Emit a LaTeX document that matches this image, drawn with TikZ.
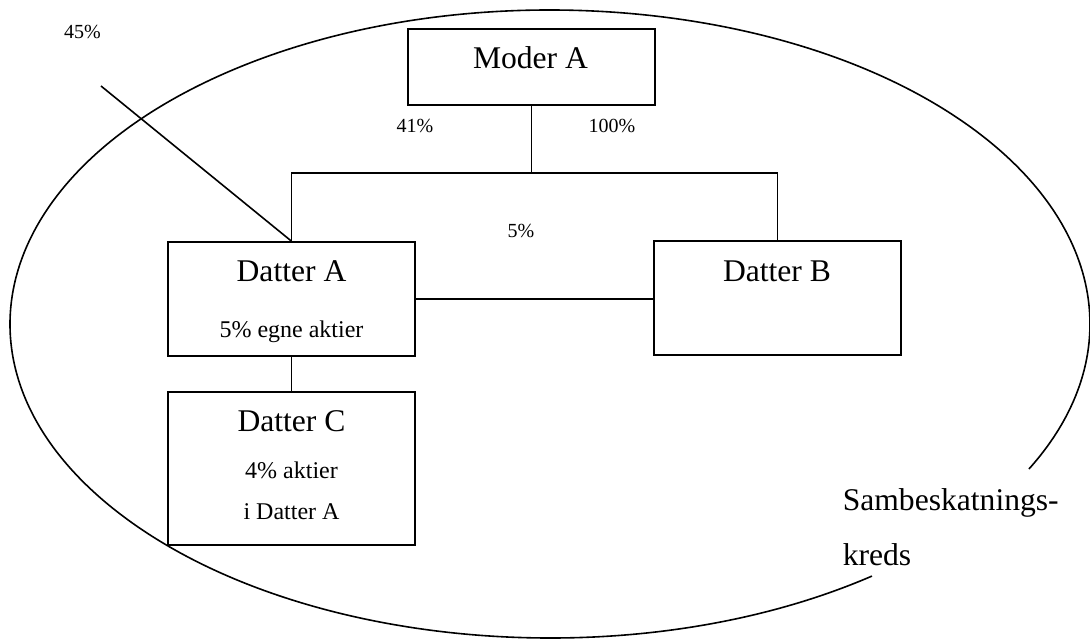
\documentclass[tikz,border=0pt]{standalone}
\usepackage{fontspec}
\setmainfont{Liberation Serif}
\begin{document}
\begin{tikzpicture}[x=1pt,y=-1pt,
  line width=1.6pt,
  box/.style={draw, rectangle, inner sep=0pt, minimum width=247pt},
  big/.style={anchor=base, inner sep=0pt, font=\fontsize{31.6}{36}\selectfont},
  mid/.style={anchor=base, inner sep=0pt, font=\fontsize{24}{28}\selectfont},
  pct/.style={anchor=base, inner sep=0pt, font=\fontsize{20}{24}\selectfont}]
\useasboundingbox (0,0) rectangle (1090,639);

% group boundary, open at the lower right for its caption
\draw ([shift={(53.4:540 and 314)}]550,324)
  arc[start angle=53.4, end angle=387.5, x radius=540, y radius=314];

% companies
\node[box, minimum height=76pt]  (moder) at (531.5,67)    {};
\node[box, minimum height=114pt] (da)    at (291.5,299)   {};
\node[box, minimum height=114pt] (db)    at (777.5,298)   {};
\node[box, minimum height=153pt] (dc)    at (291.5,468.5) {};

% ownership lines
\coordinate (mj)  at (531.5,173);
\coordinate (ext) at (101,86);
\draw (moder.south) -- (mj);
\draw (da.north) |- (mj) -| (db.north);
\draw (da.east) -- (da.east -| db.west);
\draw (da.south) -- (dc.north);
\draw (ext) -- (da.north);

% names
\node[big] (tmoder) at (530.5,69)  {Moder A};
\node[big] (tda)    at (291.5,281) {Datter A};
\node[big] (tdb)    at (777,282)   {Datter B};
\node[big] (tdc)    at (291.5,431) {Datter C};
\node[mid] (tda2)   at (291.5,337) {5\% egne aktier};
\node[mid] (tdc2)   at (291.5,478) {4\% aktier};
\node[mid] (tdc3)   at (291.5,519) {i Datter A};

% shares
\node[pct] (p45)  at (82.5,39)  {45\%};
\node[pct] (p41)  at (415,133)  {41\%};
\node[pct] (p100) at (612,133)  {100\%};
\node[pct] (p5)   at (521,238)  {5\%};

% caption
\node[big, anchor=base west] (cap1) at (842,510) {Sambeskatnings-};
\node[big, anchor=base west] (cap2) at (842,565) {kreds};
\end{tikzpicture}
\end{document}
